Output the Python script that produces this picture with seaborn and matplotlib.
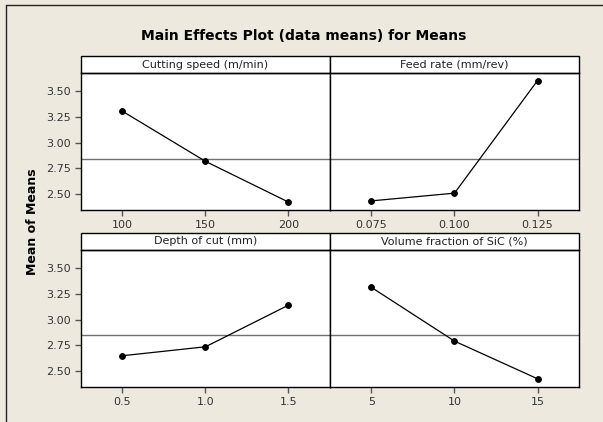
import numpy as np
import matplotlib
matplotlib.use("Agg")
import matplotlib.pyplot as plt
import seaborn as sns
from matplotlib.patches import Rectangle
from matplotlib.lines import Line2D

# factor names and their levels (as printed on the x axes)
factors = ["Cutting speed (m/min)", "Feed rate (mm/rev)",
           "Depth of cut (mm)", "Volume fraction of SiC (%)"]
cutting_speed = ["100", "150", "200"]
feed_rate = ["0.075", "0.100", "0.125"]
depth_of_cut = ["0.5", "1.0", "1.5"]
vol_fraction = ["5", "10", "15"]

# mean of means at each level
cutting_speed_means = [3.306, 2.819, 2.423]
feed_rate_means = [2.435, 2.510, 3.604]
depth_of_cut_means = [2.649, 2.736, 3.141]
vol_fraction_means = [3.313, 2.791, 2.425]

y_ticks = [2.50, 2.75, 3.00, 3.25, 3.50]

levels = [cutting_speed, feed_rate, depth_of_cut, vol_fraction]
means = [cutting_speed_means, feed_rate_means, depth_of_cut_means, vol_fraction_means]
grand_mean = np.mean(np.concatenate(means))

sns.set_theme(style="white")
plt.rcParams["font.family"] = ["DejaVu Sans"]

W, H = 603, 422
fig, axes = plt.subplots(2, 2, figsize=(W / 100, H / 100), dpi=100, sharey=True)
fig.patch.set_facecolor("#EDE9DF")
fig.subplots_adjust(left=81 / W, right=579 / W, top=1 - 73 / H, bottom=1 - 387 / H,
                    wspace=0, hspace=0.29)

strip_h = 17 / 137.5
for i, ax in enumerate(axes.flat):
    sns.pointplot(x=levels[i], y=means[i], ax=ax, color="black", errorbar=None,
                  markers="o", markersize=4.2, linewidth=0.9)
    ax.axhline(grand_mean, color="#707070", lw=1, zorder=0)
    ax.set_xlim(-0.5, 2.5)
    ax.set_ylim(2.345, 3.678)
    ax.set_yticks(y_ticks)
    ax.set_yticklabels([f"{v:.2f}" for v in y_ticks])
    ax.set_facecolor("white")
    for s in ax.spines.values():
        s.set_color("black")
        s.set_linewidth(1)
    ax.tick_params(axis="both", length=4, width=1, color="#555555", labelsize=8,
                   labelcolor="#333333", pad=3, bottom=True, left=(i % 2 == 0))
    ax.set_xlabel("")
    ax.set_ylabel("")
    # strip header
    ax.add_patch(Rectangle((0, 1), 1, strip_h, transform=ax.transAxes, clip_on=False,
                           fc="white", ec="black", lw=1))
    ax.text(0.5, 1 + strip_h / 2, factors[i], transform=ax.transAxes,
            ha="center", va="center", fontsize=8, color="#222222")

fig.text(304 / W, 1 - 36 / H, "Main Effects Plot (data means) for Means",
         ha="center", va="center", fontsize=10, fontweight="bold", color="black")
fig.text(33 / W, 1 - 222 / H, "Mean of Means", rotation=90,
         ha="center", va="center", fontsize=9, fontweight="bold", color="black")

# outer frame edges of the original window
fig.add_artist(Line2D([6 / W, 1], [1 - 5 / H, 1 - 5 / H], color="#222222", lw=1))
fig.add_artist(Line2D([6 / W, 6 / W], [0, 1 - 5 / H], color="#222222", lw=1))

fig.savefig("out.png", dpi=100, facecolor=fig.get_facecolor())
